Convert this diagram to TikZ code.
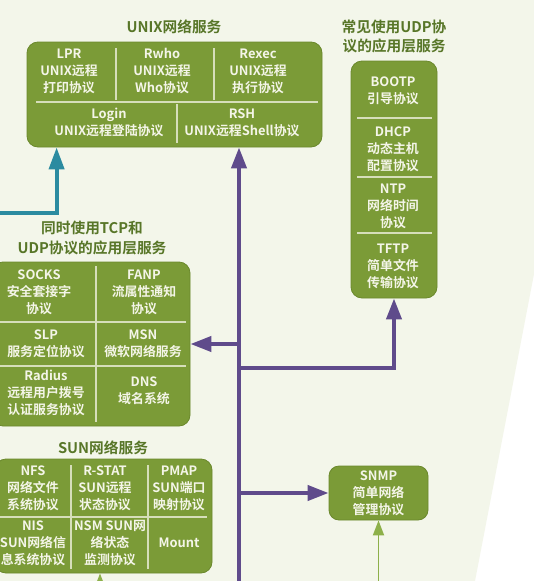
\documentclass[tikz,border=0pt]{standalone}
\usepackage{fontspec}
\usepackage{tikz}
\usetikzlibrary{arrows.meta,positioning,calc}
\newfontfamily\cjk{Noto Sans CJK SC}[BoldFont={Noto Sans CJK SC Bold}]
\definecolor{bgcream}{RGB}{243,246,234}
\definecolor{boxgreen}{RGB}{123,155,55}
\definecolor{boxedge}{RGB}{106,136,44}
\definecolor{titlegreen}{RGB}{88,118,40}
\definecolor{celltext}{RGB}{244,245,232}
\definecolor{divline}{RGB}{214,222,186}
\definecolor{trunkpurple}{RGB}{95,75,139}
\definecolor{linkteal}{RGB}{43,139,160}
\definecolor{feedgreen}{RGB}{141,176,74}

\begin{document}
\begin{tikzpicture}[x=1pt, y=-1pt,
    every node/.style={font=\cjk\bfseries},
    group/.style={draw=boxedge, fill=boxgreen, rounded corners=11pt, line width=0.8pt},
    cell/.style={text=celltext, align=center, inner sep=0pt, font=\cjk\bfseries\fontsize{12.9}{17}\selectfont},
    grouptitle/.style={text=titlegreen, align=center, inner sep=0pt, font=\cjk\bfseries\fontsize{14.7}{19.5}\selectfont},
    divider/.style={draw=divline, line width=1.2pt},
    arr/.style={-{Triangle[length=21pt, width=15pt]}, line width=4pt, trunkpurple},
    tealarr/.style={-{Triangle[length=22pt, width=15pt]}, line width=4pt, linkteal},
    thinarr/.style={-{Triangle[length=15pt, width=11pt]}, line width=1.8pt, feedgreen}
]
    \useasboundingbox (0,0) rectangle (534,581);
    \clip (0,0) rectangle (534,581);
    \fill[white] (0,0) rectangle (534,581);
    \fill[bgcream] (0,0) -- (534,0) -- (534,274) -- (475,581) -- (0,581) -- cycle;

    % UNIX
    \node[grouptitle] (unixtitle) at (174,27) {UNIX网络服务};
    \node[group, minimum width=295pt, minimum height=105pt] (unix) at (174.5,94.5) {};
    \draw[divider] (36,102) -- (318,102);
    \draw[divider] (116,48) -- (116,100);
    \draw[divider] (214,48) -- (214,100);
    \draw[divider] (177,104) -- (177,143);
    \node[cell] (lpr) at (69,71) {LPR\\UNIX远程\\打印协议};
    \node[cell] (rwho) at (162,71) {Rwho\\UNIX远程\\Who协议};
    \node[cell] (rexec) at (258,71) {Rexec\\UNIX远程\\执行协议};
    \node[cell] (login) at (109,122.5) {Login\\UNIX远程登陆协议};
    \node[cell] (rsh) at (242,122.5) {RSH\\UNIX远程Shell协议};

    % UDP
    \node[grouptitle] (udptitle) at (394,36.5) {常见使用UDP协\\议的应用层服务};
    \node[group, minimum width=86pt, minimum height=237pt] (udp) at (394,179.5) {};
    \draw[divider] (357,118) -- (432,118);
    \draw[divider] (357,177) -- (432,177);
    \draw[divider] (357,233) -- (432,233);
    \node[cell] (bootp) at (393,90.5) {BOOTP\\引导协议};
    \node[cell] (dhcp) at (393,149) {DHCP\\动态主机\\配置协议};
    \node[cell] (ntp) at (393,206) {NTP\\网络时间\\协议};
    \node[cell] (tftp) at (393,266) {TFTP\\简单文件\\传输协议};

    % TCP and UDP
    \node[grouptitle] (tcptitle) at (92,238) {同时使用TCP和\\UDP协议的应用层服务};
    \node[group, minimum width=198pt, minimum height=164pt] (tcp) at (91,344) {};
    \draw[divider] (96,266) -- (96,422);
    \draw[divider] (0,322) -- (186,322);
    \draw[divider] (0,366) -- (186,366);
    \node[cell] (socks) at (39,292) {SOCKS\\安全套接字\\协议};
    \node[cell] (fanp) at (144,292) {FANP\\流属性通知\\协议};
    \node[cell] (slp) at (46,343.5) {SLP\\服务定位协议};
    \node[cell] (msn) at (143,343.5) {MSN\\微软网络服务};
    \node[cell] (radius) at (46,393) {Radius\\远程用户拨号\\认证服务协议};
    \node[cell] (dns) at (144,390.5) {DNS\\域名系统};

    % SUN
    \node[grouptitle] (suntitle) at (103,448) {SUN网络服务};
    \node[group, minimum width=217pt, minimum height=114pt] (sun) at (103.5,516) {};
    \draw[divider] (71,465) -- (71,569);
    \draw[divider] (148,465) -- (148,569);
    \draw[divider] (0,517) -- (207,517);
    \node[cell] (nfs) at (33,488) {NFS\\网络文件\\系统协议};
    \node[cell] (rstat) at (105,488) {R-STAT\\SUN远程\\状态协议};
    \node[cell] (pmap) at (179,488) {PMAP\\SUN端口\\映射协议};
    \node[cell] (nis) at (33,543) {NIS\\SUN网络信\\息系统协议};
    \node[cell] (nsm) at (110,543) {NSM SUN网\\络状态\\监测协议};
    \node[cell] (mount) at (179,543) {Mount};

    % SNMP
    \node[group, cell, rounded corners=10pt, minimum width=99pt, minimum height=54pt] (snmp) at (378.5,493) {SNMP\\简单网络\\管理协议};

    % arrows
    \coordinate (leftin) at (0,213);
    \coordinate (trunkbot) at (239,581);
    \coordinate (br1) at (239,344);
    \coordinate (br2) at (239,368);
    \coordinate (br3) at (239,493);
    \coordinate (sunin) at (100,581);
    \coordinate (snmpin) at (378.5,581);

    \draw[tealarr] (leftin) -| ([xshift=30pt]unix.south west);
    \draw[arr] (br1) -- (tcp.east);
    \draw[arr] (br2) -| (udp.south);
    \draw[arr] (br3) -- (snmp.west);
    \draw[arr] (trunkbot) -- (trunkbot |- unix.south);
    \draw[thinarr] (sunin) -- (sunin |- sun.south);
    \draw[thinarr] (snmpin) -- (snmp.south);
\end{tikzpicture}
\end{document}
